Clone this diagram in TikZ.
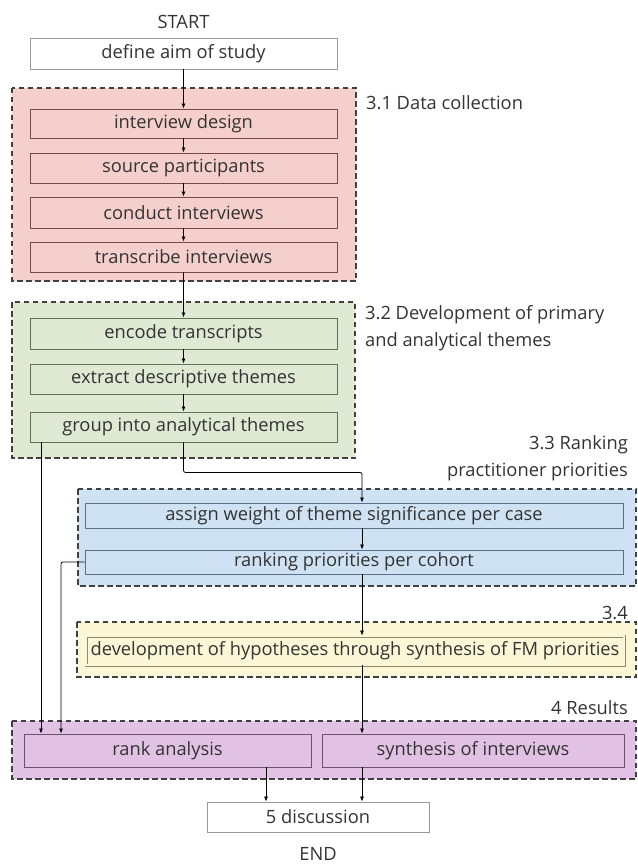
\documentclass[tikz,border=0pt]{standalone}
\usepackage{fontspec}
\setmainfont{Open Sans}
\usetikzlibrary{arrows.meta,calc}

\definecolor{redfill}{HTML}{F5CFCB}
\definecolor{redline}{HTML}{7A4A45}
\definecolor{greenfill}{HTML}{DFE9D3}
\definecolor{greenline}{HTML}{5F7355}
\definecolor{bluefill}{HTML}{CFE2F3}
\definecolor{blueline}{HTML}{5A7088}
\definecolor{yellowfill}{HTML}{FAF6D6}
\definecolor{yellowline}{HTML}{8C8C6A}
\definecolor{purplefill}{HTML}{E2C2E4}
\definecolor{purpleline}{HTML}{6E506E}
\definecolor{textgray}{HTML}{333333}

\begin{document}
\begin{tikzpicture}[
        x=1pt, y=-1pt,
        every node/.style={font=\fontsize{18.3}{26.7}\selectfont, text=textgray, inner sep=0pt},
        stepbox/.style={draw, line width=0.9pt, minimum width=307pt, minimum height=30pt},
        whitebox/.style={stepbox, draw=gray!80, fill=white},
        redbox/.style={stepbox, draw=redline, fill=redfill},
        greenbox/.style={stepbox, draw=greenline, fill=greenfill},
        bluebox/.style={stepbox, draw=blueline, fill=bluefill, minimum width=538pt, minimum height=25pt},
        yellowbox/.style={stepbox, draw=yellowline, double=yellowfill, double distance=1.2pt, fill=yellowfill, minimum width=538pt, minimum height=29pt},
        purplebox/.style={stepbox, draw=purpleline, fill=purplefill, minimum height=33pt},
        group/.style={draw=black!75, line width=1.2pt, dash pattern=on 5.5pt off 3.5pt},
        arr/.style={-{Latex[length=5pt,width=4pt]}, line width=0.8pt, rounded corners=2pt},
    ]
    \useasboundingbox (0,0) rectangle (637,866);

    % groups
    \draw[group, fill=redfill] (12,88) rectangle (356,281);
    \draw[group, fill=greenfill] (12,302) rectangle (355,458);
    \draw[group, fill=bluefill] (78,489) rectangle (636,586);
    \draw[group, fill=yellowfill] (77,622) rectangle (636,677);
    \draw[group, fill=purplefill] (12,721) rectangle (636,779);

    % group labels
    \node[anchor=west] (lab31) at (366,103) {3.1 Data collection};
    \node[anchor=west, align=left] (lab32) at (365,328.5) {3.2 Development of primary\\and analytical themes};
    \node[anchor=east, align=right] (lab33) at (628,458.5) {3.3 Ranking\\practitioner priorities};
    \node[anchor=east] (lab34) at (628,613) {3.4};
    \node[anchor=east] (lab4) at (628,708) {4 Results};

    % steps
    \node (start) at (183.5,22) {START};
    \node[whitebox, minimum height=31pt] (aim) at (183.5,53.5) {define aim of study};
    \node[redbox, minimum height=29pt] (design) at (183.5,123.5) {interview design};
    \node[redbox] (source) at (183.5,168) {source participants};
    \node[redbox, minimum height=31pt] (conduct) at (183.5,212.5) {conduct interviews};
    \node[redbox] (transcribe) at (183.5,257) {transcribe interviews};
    \node[greenbox, minimum height=31pt] (encode) at (183.5,333.5) {encode transcripts};
    \node[greenbox] (extract) at (183.5,379) {extract descriptive themes};
    \node[greenbox] (grouping) at (183.5,427) {group into analytical themes};
    \node[bluebox] (assign) at (354,515.5) {assign weight of theme significance per case};
    \node[bluebox, minimum height=24pt] (ranking) at (354,562) {ranking priorities per cohort};
    \node[yellowbox] (hypo) at (355,650.5) {development of hypotheses through synthesis of FM priorities};
    \node[purplebox, minimum width=287pt] (rank) at (167.5,750.5) {rank analysis};
    \node[purplebox, minimum width=302pt] (synth) at (473,750.5) {synthesis of interviews};
    \node[whitebox, minimum width=222pt] (discuss) at (318,817) {5 discussion};
    \node (end) at (318,854) {END};

    % connector columns
    \coordinate (spine) at (362,0);
    \coordinate (lft) at (41,0);
    \coordinate (lft2) at (61,0);
    \coordinate (mid) at (266,0);

    % connectors
    \draw[arr] (aim) -- (design);
    \draw[arr] (design) -- (source);
    \draw[arr] (source) -- (conduct);
    \draw[arr] (conduct) -- (transcribe);
    \draw[arr] (transcribe) -- (encode);
    \draw[arr] (encode) -- (extract);
    \draw[arr] (extract) -- (grouping);
    \draw[arr] (grouping.south) -- ++(0,30) -| (assign.north -| spine);
    \draw[arr] (assign.south -| spine) -- (ranking.north -| spine);
    \draw[arr] (ranking.south -| spine) -- (hypo.north -| spine);
    \draw[arr] (hypo.south -| spine) -- (synth.north -| spine);
    \draw[arr] (grouping.south -| lft) -- (rank.north -| lft);
    \draw[arr] (ranking.west) -| (rank.north -| lft2);
    \draw[arr] (rank.south -| mid) -- (discuss.north -| mid);
    \draw[arr] (synth.south -| spine) -- (discuss.north -| spine);
\end{tikzpicture}
\end{document}
